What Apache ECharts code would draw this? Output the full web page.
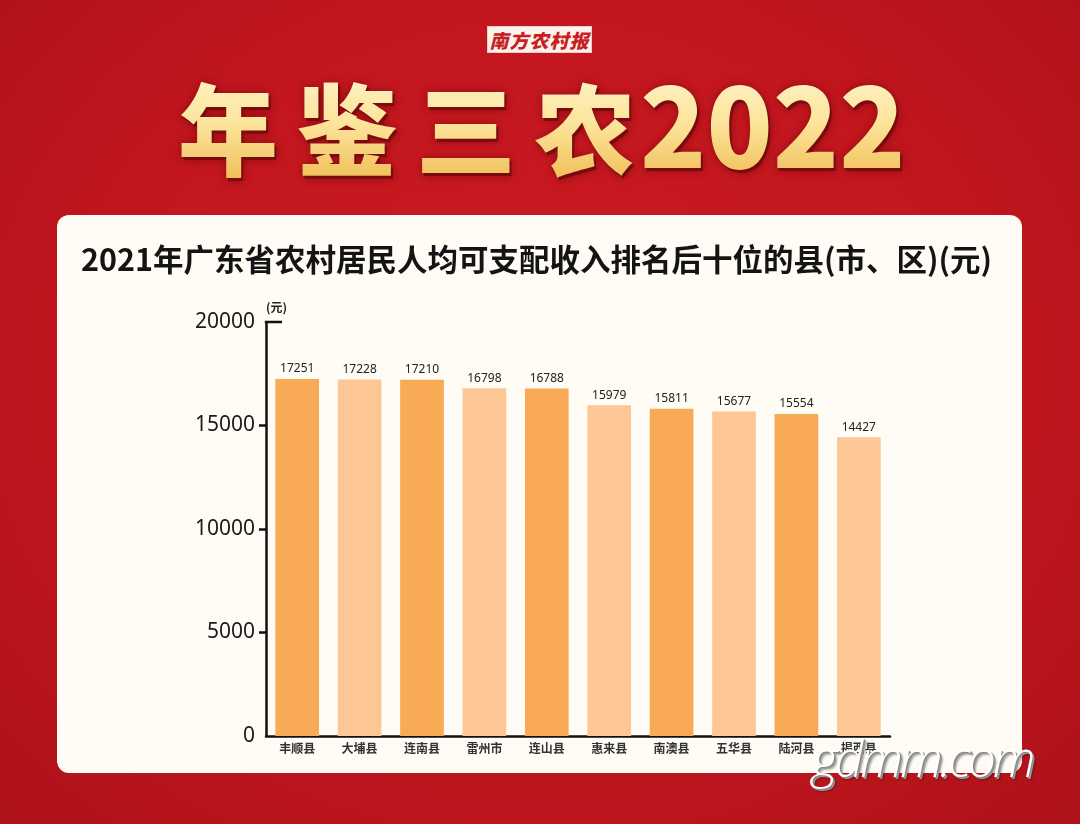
<!DOCTYPE html>
<html>
<head>
<meta charset="utf-8">
<script src="https://cdn.jsdelivr.net/npm/echarts@6/dist/echarts.min.js"></script>
<style>
  html, body { margin:0; padding:0; width:1080px; height:824px; overflow:hidden; }
  body {
    background: radial-gradient(ellipse at 50% 45%, #CC1B22 0%, #C3161E 55%, #AD1219 100%);
    position: relative;
    font-family: "Noto Sans CJK SC", "Noto Sans", sans-serif;
  }
  #panel {
    position:absolute; left:57px; top:215px; width:965px; height:558px;
    background:#FEFCF4; border-radius:12px;
  }
  #logo {
    position:absolute; left:487px; top:26px; width:105px; height:27px;
    background:#FBF3EC; border:1px solid #e9cfc6; box-sizing:border-box;
    color:#C81E24; font-size:19px; font-weight:900; font-style:italic;
    text-align:center; line-height:25px; letter-spacing:1px;
  }
  #bigtitle {
    position:absolute; left:178px; top:56px; white-space:nowrap;
    font-family:"Noto Sans CJK SC", sans-serif; font-weight:900;
    background: linear-gradient(180deg, #FFF6D2 0%, #FCE49A 40%, #F0BC55 75%, #D9962E 100%);
    -webkit-background-clip:text; background-clip:text; color:transparent;
    filter: drop-shadow(2px 3px 0px #7A0A0E) drop-shadow(0 0 4px rgba(90,0,0,0.5));
    line-height:130px;
  }
  #bigtitle .cn { font-size:100px; letter-spacing:19px; }
  #bigtitle .num { font-size:109px; letter-spacing:0px; margin-left:-14px; }
  #chart { position:absolute; left:0; top:0; width:1080px; height:824px; }
  #wm {
    position:absolute; left:812px; top:724px; white-space:nowrap;
    font-family:"Open Sans", sans-serif; font-weight:300; font-size:50px;
    letter-spacing:-3px; color:#ffffff; font-style:italic;
    text-shadow: 1px 1px 0 #888, 2px 2px 0 #999, 3px 3px 2px rgba(0,0,0,0.35);
  }
</style>
</head>
<body>
<div id="logo">南方农村报</div>
<div id="bigtitle"><span class="cn">年鉴三农</span><span class="num">2022</span></div>
<div id="panel"></div>
<div id="chart"></div>
<div id="wm">gdmm.com</div>
<script>
// ---- data ----
const chartTitle = '2021年广东省农村居民人均可支配收入排名后十位的县(市、区)(元)';
const categories = ['丰顺县', '大埔县', '连南县', '雷州市', '连山县', '惠来县', '南澳县', '五华县', '陆河县', '揭西县'];
const incomes = [17251, 17228, 17210, 16798, 16788, 15979, 15811, 15677, 15554, 14427];
const yUnit = '(元)';
const yTicks = [0, 5000, 10000, 15000, 20000];

// ---- styles ----
const barColors = ['#F9AA57', '#FCC695'];
const gridBox = { left: 266, right: 190, top: 322, bottom: 88 };

const chart = echarts.init(document.getElementById('chart'), null, { renderer: 'canvas' });
chart.setOption({
  backgroundColor: 'transparent',
  animation: false,
  title: {
    text: chartTitle,
    left: 76, top: 239,
    textStyle: { fontSize: 30.5, fontWeight: 'bold', color: '#141414', fontFamily: '"Noto Sans CJK SC", sans-serif' }
  },
  grid: Object.assign({ containLabel: false }, gridBox),
  xAxis: {
    type: 'category',
    data: categories,
    axisLine: { lineStyle: { color: '#111', width: 2.5 } },
    axisTick: { inside: true, length: 8, alignWithLabel: false, lineStyle: { color: '#111', width: 2.5 } },
    axisLabel: { margin: 6, fontSize: 12, fontWeight: 'bold', color: '#333', fontFamily: '"Noto Sans CJK SC", sans-serif' },
    splitLine: { show: false }
  },
  yAxis: {
    type: 'value',
    min: yTicks[0], max: yTicks[yTicks.length - 1], interval: yTicks[1] - yTicks[0],
    name: yUnit,
    nameLocation: 'end',
    nameGap: 9,
    nameTextStyle: { fontSize: 12, fontWeight: 'bold', color: '#222', align: 'left', fontFamily: '"Noto Sans CJK SC", sans-serif' },
    axisLine: { show: true, lineStyle: { color: '#111', width: 2.5 } },
    axisTick: { show: true, length: 7, customValues: yTicks.slice(1, -1), lineStyle: { color: '#111', width: 2.5 } },
    axisLabel: { margin: 11, fontSize: 21, color: '#1a1a1a', fontFamily: '"Noto Sans", sans-serif', formatter: v => String(v) },
    splitLine: { show: false }
  },
  series: [{
    type: 'bar',
    data: incomes,
    barWidth: '70%',
    itemStyle: { color: p => barColors[p.dataIndex % 2] },
    label: { show: true, position: 'top', distance: 4, fontSize: 12, color: '#222', fontFamily: '"Noto Sans", sans-serif' }
  }]
});

// top corner tick of the y axis (pointing right)
const yTop = chart.convertToPixel({ yAxisIndex: 0 }, yTicks[yTicks.length - 1]);
chart.setOption({
  graphic: [{
    type: 'line',
    shape: { x1: gridBox.left - 1.2, y1: yTop, x2: gridBox.left + 16, y2: yTop },
    style: { stroke: '#111', lineWidth: 2.5 }
  }]
});
</script>
</body>
</html>
